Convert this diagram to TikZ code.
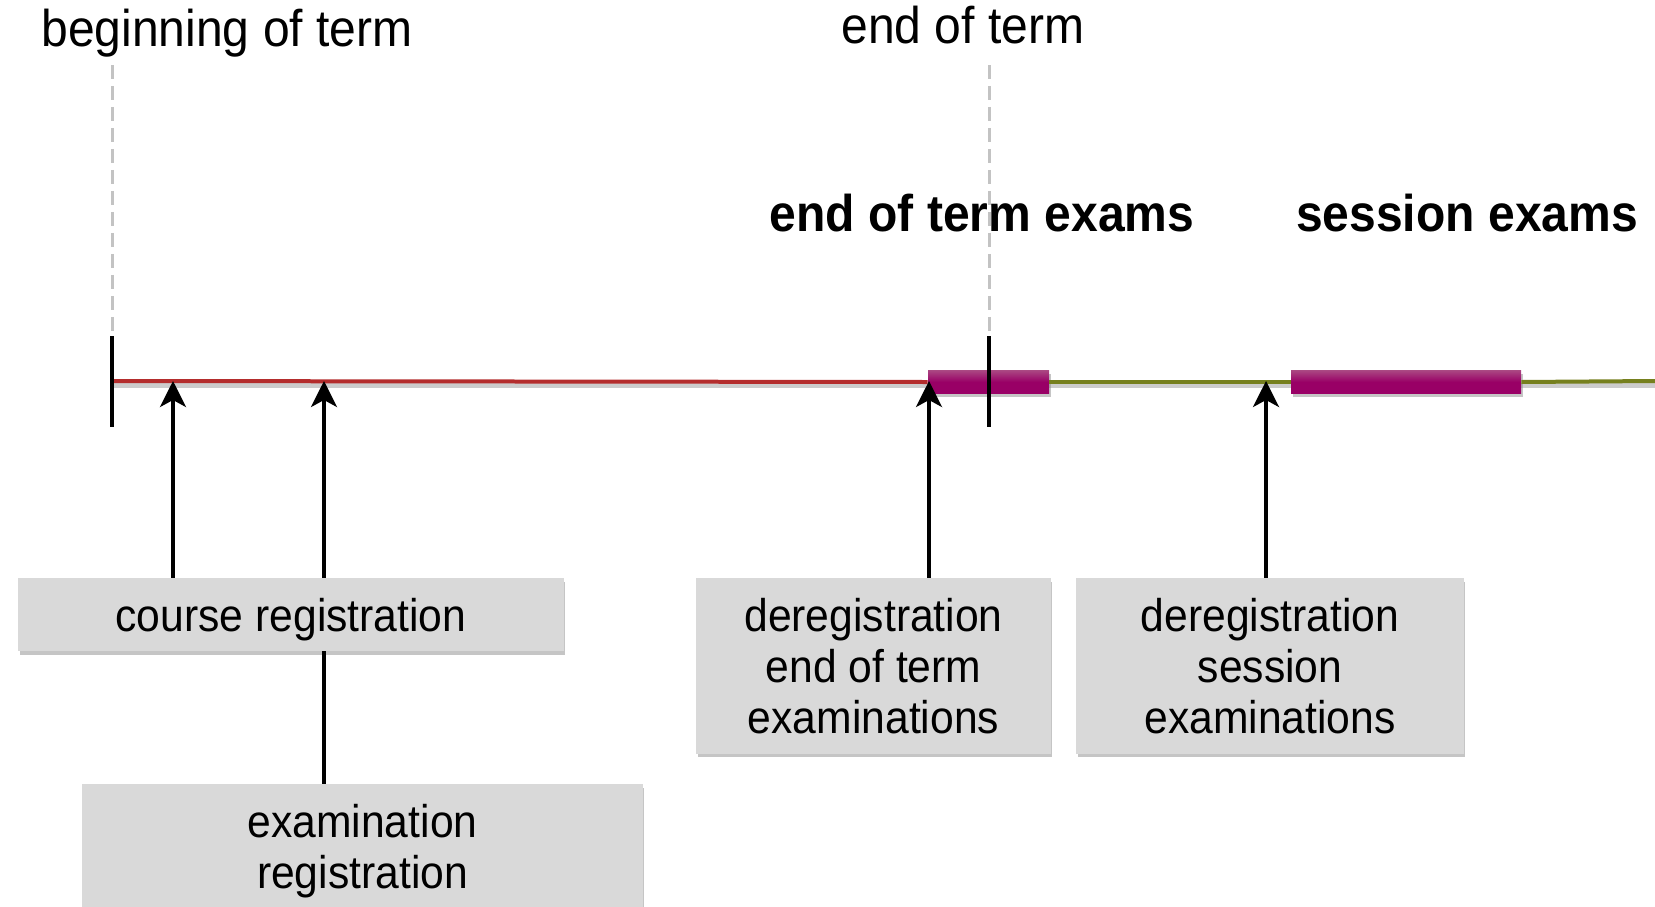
\documentclass[tikz,border=0pt]{standalone}
\usepackage{fontspec}
\setmainfont{Liberation Sans}[FakeStretch=0.93]
\usetikzlibrary{positioning}
\usetikzlibrary{shadows}
\usetikzlibrary{arrows.meta}

\definecolor{boxgray}{RGB}{217,217,217}
\definecolor{dashgray}{RGB}{195,195,195}
\definecolor{termred}{RGB}{180,45,45}
\definecolor{sessolive}{RGB}{118,128,30}
\definecolor{barpurple}{RGB}{153,0,102}
\definecolor{barlight}{RGB}{170,70,130}

\begin{document}
\begin{tikzpicture}[x=0.02cm, y=-0.02cm,
		toptext/.style={anchor=base, font=\fontsize{29.4pt}{34pt}\selectfont},
		examtext/.style={anchor=base, font=\fontsize{29.4pt}{34pt}\selectfont\bfseries},
		box/.style={rectangle, fill=boxgray, align=center, inner sep=0pt,
			font=\fontsize{26.1pt}{29pt}\selectfont,
			drop shadow={shadow xshift=0.03cm, shadow yshift=-0.07cm, fill=black!45, opacity=0.5}},
		bar/.style={rectangle, inner sep=0pt, minimum height=0.46cm,
			top color=barlight, bottom color=barpurple, middle color=barpurple,
			drop shadow={shadow xshift=0.04cm, shadow yshift=-0.07cm, fill=black!45, opacity=0.5}},
		tick/.style={black, line width=0.065cm},
		guide/.style={dashgray, line width=0.06cm, dash pattern=on 0.28cm off 0.14cm},
		arr/.style={black, line width=0.07cm, -{Stealth[length=0.52cm, width=0.52cm, inset=0.14cm]}}]
	\useasboundingbox (0,0) rectangle (1655,906);

	% labels on top
	\node[toptext] (Begin) at (227,46) {beginning of term};
	\node[toptext] (End) at (963,43) {end of term};

	% time line
	\coordinate (T0) at (112,381);
	\coordinate (T9) at (1655,381);
	\coordinate (A1) at (173,381);
	\coordinate (A2) at (324,381);
	\coordinate (A3) at (929,381);
	\coordinate (A4) at (1266,381);

	\draw[guide] (112,65) -- (112,336);
	\draw[guide] (989,65) -- (989,336);

	\node[examtext] (Exams1) at (982,231) {end of term exams};
	\node[examtext] (Exams2) at (1467,231) {session exams};

	\draw[black!20, line width=0.09cm] (112,385.5) -- (1655,385.5);
	\node[bar, minimum width=2.42cm] (Bar1) at (988.5,382) {};
	\node[bar, minimum width=4.6cm] (Bar2) at (1406,382) {};
	\draw[termred, line width=0.08cm] (T0) -- (Bar1.west);
	\draw[sessolive, line width=0.08cm] (Bar1.east) -- (Bar2.west);
	\draw[sessolive, line width=0.08cm] (Bar2.east) -- (T9);

	\draw[tick] (112,336) -- (112,427);
	\draw[tick] (989,336) -- (989,427);

	% boxes
	\node[box, text depth=0pt, minimum width=10.92cm, minimum height=1.46cm] (Course) at (291,614.5) {course registration};
	\node[box, text depth=0pt, minimum width=11.22cm, minimum height=2.5cm] (Exam) at (362.5,846.5) {examination\\registration};
	\node[box, minimum width=7.1cm, minimum height=3.52cm] (Dereg1) at (873.5,666) {deregistration\\end of term\\examinations};
	\node[box, minimum width=7.76cm, minimum height=3.52cm] (Dereg2) at (1270,666) {deregistration\\session\\examinations};

	\draw[arr] (Course.north -| A1) -- (A1);
	\draw[arr] (Course.north -| A2) -- (A2);
	\draw[black, line width=0.07cm] (Exam.north -| A2) -- (Course.south -| A2);
	\draw[arr] (Dereg1.north -| A3) -- (A3);
	\draw[arr] (Dereg2.north -| A4) -- (A4);
\end{tikzpicture}
\end{document}
